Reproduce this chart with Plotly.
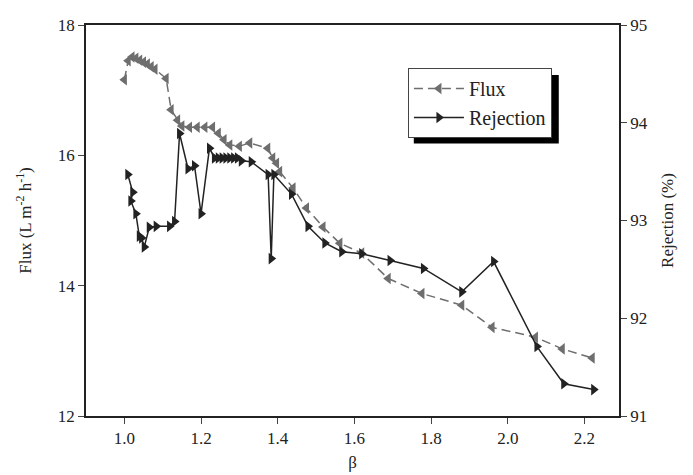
import plotly.graph_objects as go

flux_beta = [1.00, 1.01, 1.02, 1.03, 1.04, 1.05, 1.06, 1.07, 1.08, 1.109, 1.122, 1.139,
             1.15, 1.17, 1.19, 1.21, 1.23, 1.245, 1.26, 1.275, 1.30, 1.327, 1.374, 1.387,
             1.397, 1.405, 1.44, 1.475, 1.518, 1.562, 1.619, 1.688, 1.776, 1.88, 1.959,
             2.072, 2.142, 2.22]
flux_vals = [17.16, 17.45, 17.51, 17.49, 17.46, 17.43, 17.40, 17.36, 17.32, 17.18, 16.70, 16.54,
             16.45, 16.43, 16.43, 16.43, 16.43, 16.34, 16.24, 16.16, 16.14, 16.19, 16.11, 15.96,
             15.88, 15.75, 15.50, 15.19, 14.90, 14.65, 14.50, 14.11, 13.88, 13.70, 13.36,
             13.21, 13.03, 12.89]

rej_beta = [1.009, 1.022, 1.017, 1.030, 1.039, 1.045, 1.052, 1.065, 1.083, 1.118, 1.131,
            1.144, 1.166, 1.183, 1.200, 1.222, 1.235, 1.245, 1.255, 1.265, 1.275, 1.285,
            1.295, 1.305, 1.331, 1.375, 1.383, 1.390, 1.436, 1.479, 1.523, 1.567, 1.619,
            1.693, 1.780, 1.880, 1.963, 2.076, 2.146, 2.224]
rej_vals = [93.47, 93.29, 93.20, 93.07, 92.84, 92.82, 92.73, 92.93, 92.94, 92.94, 92.99,
            93.89, 93.53, 93.56, 93.07, 93.74, 93.64, 93.64, 93.64, 93.64, 93.64, 93.64,
            93.64, 93.61, 93.60, 93.47, 92.61, 93.47, 93.27, 92.94, 92.77, 92.68, 92.66,
            92.59, 92.51, 92.27, 92.58, 91.71, 91.33, 91.27]

x_ticks = [1.0, 1.2, 1.4, 1.6, 1.8, 2.0, 2.2]
flux_ticks = [12, 14, 16, 18]
rej_ticks = [91, 92, 93, 94, 95]

FONT = "Liberation Serif"

fig = go.Figure()
fig.add_trace(go.Scatter(
    x=flux_beta, y=flux_vals, name="Flux", mode="lines+markers",
    line=dict(color="#6e6e6e", width=1.5, dash="9px,5px"),
    marker=dict(symbol="triangle-left", size=10, color="#6e6e6e"),
))
fig.add_trace(go.Scatter(
    x=rej_beta, y=rej_vals, name="Rejection", mode="lines+markers", yaxis="y2",
    line=dict(color="#222222", width=1.5),
    marker=dict(symbol="triangle-right", size=10, color="#222222"),
))

# legend shadow (offset behind the legend box)
fig.add_shape(type="rect", xref="paper", yref="paper",
              x0=0.615, x1=0.887, y0=0.697, y1=0.872,
              fillcolor="black", line=dict(width=0), layer="below")

fig.update_layout(
    width=693, height=475,
    margin=dict(l=86, r=74, t=25, b=59),
    paper_bgcolor="white", plot_bgcolor="white",
    font=dict(family=FONT, size=17, color="#222"),
    showlegend=True,
    legend=dict(x=0.604, y=0.89, xanchor="left", yanchor="top",
                bgcolor="white", bordercolor="#444", borderwidth=1,
                font=dict(family=FONT, size=20), tracegroupgap=0,
                itemwidth=50),
    xaxis=dict(range=[0.9, 2.29], tickvals=x_ticks, ticktext=[f"{v:.1f}" for v in x_ticks],
               ticks="outside", ticklen=6, showline=True, linecolor="#222", linewidth=1.5,
               mirror=True, showgrid=False, zeroline=False, automargin=False,
               title=dict(text="β", standoff=9, font=dict(size=17))),
    yaxis=dict(range=[12, 18], tickvals=flux_ticks, ticks="outside", ticklen=6,
               showline=True, linecolor="#222", linewidth=1.5, showgrid=False, zeroline=False,
               automargin=False,
               title=dict(text="Flux (L m<sup>-2</sup> h<sup>-1</sup>)", standoff=22, font=dict(size=17))),
    yaxis2=dict(range=[91, 95], tickvals=rej_ticks, ticks="outside", ticklen=6,
                overlaying="y", side="right", showline=True, linecolor="#222", linewidth=1.5,
                showgrid=False, zeroline=False, automargin=False,
                title=dict(text="Rejection (%)", standoff=14, font=dict(size=17))),
)

fig.write_html("out.html")
